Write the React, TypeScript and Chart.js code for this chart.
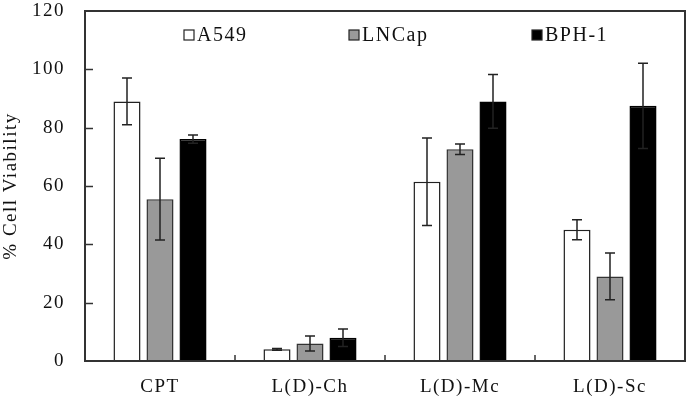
import React, { useEffect, useRef } from "react";
import { Chart, registerables } from "chart.js";

Chart.register(...registerables);

const categories = ["CPT", "L(D)-Ch", "L(D)-Mc", "L(D)-Sc"];
const seriesNames = ["A549", "LNCap", "BPH-1"];
const a549 = [89, 4, 61.5, 45];
const a549Err = [8, 0.3, 15, 3.4];
const lncap = [55.5, 6, 72.6, 29];
const lncapErr = [14, 2.6, 1.8, 8];
const bph = [76.1, 8, 89, 87.5];
const bphErr = [1.4, 3, 9.2, 14.6];
const yTicks = [0, 20, 40, 60, 80, 100, 120];

const FONT = "'Liberation Serif', 'Times New Roman', serif";
const fills = ["#ffffff", "#999999", "#000000"];
const errs = [a549Err, lncapErr, bphErr];

const spacingPlugin = {
  id: "spacing",
  beforeUpdate(chart: any) {
    chart.ctx.letterSpacing = "1.5px";
  },
  beforeDraw(chart: any) {
    chart.ctx.letterSpacing = "1.5px";
  },
};

const decorPlugin = {
  id: "decor",
  afterDatasetsDraw(chart: any) {
    const ctx = chart.ctx;
    const y = chart.scales.y;
    ctx.save();
    ctx.strokeStyle = "#222";
    ctx.lineWidth = 1.5;
    chart.data.datasets.forEach((ds: any, di: number) => {
      const meta = chart.getDatasetMeta(di);
      meta.data.forEach((el: any, i: number) => {
        const v = ds.data[i];
        const e = errs[di][i];
        const yt = y.getPixelForValue(v + e);
        const yb = y.getPixelForValue(v - e);
        ctx.beginPath();
        ctx.moveTo(el.x, yt);
        ctx.lineTo(el.x, yb);
        ctx.moveTo(el.x - 5, yt);
        ctx.lineTo(el.x + 5, yt);
        ctx.moveTo(el.x - 5, yb);
        ctx.lineTo(el.x + 5, yb);
        ctx.stroke();
      });
    });
    ctx.restore();
  },
  afterDraw(chart: any) {
    const ctx = chart.ctx;
    const a = chart.chartArea;
    const y = chart.scales.y;
    const x = chart.scales.x;
    ctx.save();
    ctx.strokeStyle = "#333";
    ctx.lineWidth = 2;
    ctx.strokeRect(a.left, a.top, a.right - a.left, a.bottom - a.top);
    ctx.lineWidth = 1.5;
    yTicks.forEach((t) => {
      if (t === 0 || t === 120) return;
      const py = Math.round(y.getPixelForValue(t)) + 0.5;
      ctx.beginPath();
      ctx.moveTo(a.left, py);
      ctx.lineTo(a.left + 8, py);
      ctx.stroke();
    });
    for (let i = 1; i < categories.length; i++) {
      const px = (x.getPixelForValue(i - 1) + x.getPixelForValue(i)) / 2;
      ctx.beginPath();
      ctx.moveTo(px, a.bottom);
      ctx.lineTo(px, a.bottom - 6);
      ctx.stroke();
    }
    // legend
    const offs = [99, 264, 447];
    ctx.font = `20px ${FONT}`;
    ctx.textBaseline = "middle";
    ctx.textAlign = "left";
    (ctx as any).letterSpacing = "1.5px";
    seriesNames.forEach((n, i) => {
      const lx = a.left + offs[i];
      const ly = a.top + 24;
      ctx.fillStyle = fills[i];
      ctx.fillRect(lx, ly - 5, 10, 10);
      ctx.strokeStyle = "#222";
      ctx.lineWidth = 1.2;
      ctx.strokeRect(lx, ly - 5, 10, 10);
      ctx.fillStyle = "#111";
      ctx.fillText(n, lx + 13, ly + 1);
    });
    ctx.restore();
  },
};

export default function App() {
  const ref = useRef<HTMLCanvasElement>(null);
  useEffect(() => {
    document.body.style.margin = "0";
    const chart = new Chart(ref.current!, {
      type: "bar",
      data: {
        labels: categories,
        datasets: [
          { label: seriesNames[0], data: a549, backgroundColor: fills[0], borderColor: "#222", borderWidth: 1.5 },
          { label: seriesNames[1], data: lncap, backgroundColor: fills[1], borderColor: "#333", borderWidth: 1.5 },
          { label: seriesNames[2], data: bph, backgroundColor: fills[2], borderColor: "#000", borderWidth: 1.5 },
        ],
      },
      options: {
        animation: false,
        responsive: false,
        maintainAspectRatio: false,
        datasets: { bar: { categoryPercentage: 0.66, barPercentage: 0.82 } },
        layout: { padding: { top: 11, right: 4, left: 0, bottom: 0 } },
        plugins: { legend: { display: false }, tooltip: { enabled: false } },
        scales: {
          x: {
            grid: { display: false, drawTicks: false },
            border: { display: false },
            ticks: { color: "#111", font: { family: FONT, size: 19 }, padding: 15, maxRotation: 0 },
            afterFit: (s: any) => { s.height = 41; s.paddingLeft = 0; s.paddingRight = 0; },
          },
          y: {
            min: 0,
            max: 120,
            grid: { display: false, drawTicks: false },
            border: { display: false },
            ticks: { stepSize: 20, color: "#111", font: { family: FONT, size: 19 }, padding: 20 },
            title: { display: true, text: "% Cell Viability", color: "#111", font: { family: FONT, size: 19 }, padding: 0 },
            afterFit: (s: any) => { s.width = 85; s.paddingTop = 0; s.paddingBottom = 0; },
          },
        },
      },
      plugins: [spacingPlugin, decorPlugin],
    });
    return () => chart.destroy();
  }, []);
  return (
    <div style={{ position: "absolute", left: 0, top: 0, width: 689, height: 402, background: "#fff" }}>
      <canvas ref={ref} width={689} height={402} />
    </div>
  );
}
